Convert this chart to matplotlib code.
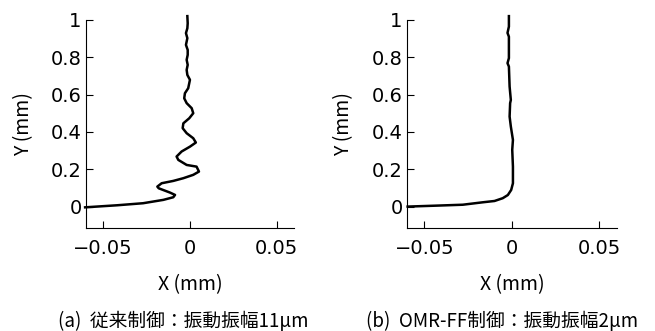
import matplotlib.pyplot as plt

plt.rcParams['font.family'] = ['Noto Sans CJK JP', 'DejaVu Sans']

# (a) conventional control: trajectory (x, y) in mm
conv_x = [-0.0604, -0.042, -0.027, -0.0153, -0.0096, -0.0086, -0.0115, -0.018, -0.0188,
          -0.0163, -0.0096, -0.0038, 0.0019, 0.0052, 0.0038, -0.0019, -0.0067, -0.0077,
          -0.0048, 0.0, 0.0034, 0.0019, -0.0019, -0.0042, -0.0038, -0.0004, 0.0019,
          0.001, -0.0019, -0.0033, -0.0029, -0.001, -0.0004, 0.0, -0.0015, -0.0019,
          -0.0013, -0.0019, -0.0013, -0.0013, -0.0023, -0.0015, -0.0023, -0.0015,
          -0.0013, -0.0015]
conv_y = [-0.004, 0.007, 0.018, 0.036, 0.05, 0.0625, 0.075, 0.098, 0.107,
          0.125, 0.1375, 0.152, 0.17, 0.1875, 0.214, 0.223, 0.25, 0.268,
          0.295, 0.321, 0.343, 0.366, 0.393, 0.42, 0.446, 0.473, 0.5,
          0.527, 0.554, 0.58, 0.607, 0.634, 0.661, 0.679, 0.705, 0.732,
          0.759, 0.786, 0.8125, 0.839, 0.866, 0.902, 0.929, 0.955,
          0.982, 1.02]

# (b) OMR-FF control
omr_x = [-0.0595, -0.0433, -0.028, -0.0166, -0.0099, -0.0052, -0.0023, -0.0004, 0.0006,
         0.0006, 0.0002, 0.0006, 0.0, -0.0006, -0.0013, -0.001, -0.0006, -0.0013,
         -0.0017, -0.0025, -0.0017, -0.0017, -0.0025, -0.0017, -0.0017]
omr_y = [0.0, 0.005, 0.01, 0.023, 0.03, 0.045, 0.062, 0.089, 0.125,
         0.214, 0.304, 0.357, 0.393, 0.429, 0.482, 0.554, 0.571, 0.643,
         0.75, 0.768, 0.795, 0.91, 0.93, 0.964, 1.02]

xticks = [-0.05, 0, 0.05]
xticklabels = ['\u22120.05', '0', '0.05']
yticks = [0, 0.2, 0.4, 0.6, 0.8, 1]
yticklabels = ['0', '0.2', '0.4', '0.6', '0.8', '1']
captions = ['(a)  従来制御：振動振幅11μm', '(b)  OMR-FF制御：振動振幅2μm']

fig = plt.figure(figsize=(6.55, 3.31), dpi=100)
boxes = [[0.131, 0.311, 0.318, 0.629], [0.621, 0.311, 0.321, 0.629]]
data = [(conv_x, conv_y), (omr_x, omr_y)]
cap_x = [0.28, 0.766]

for box, (xs, ys), cap, cx in zip(boxes, data, captions, cap_x):
    ax = fig.add_axes(box)
    ax.plot(xs, ys, color='black', lw=1.8, clip_on=False)
    ax.set_xlim(-0.06, 0.06)
    ax.set_ylim(-0.115, 1.0)
    ax.spines['top'].set_visible(False)
    ax.spines['right'].set_visible(False)
    ax.spines['left'].set_bounds(-0.115, 1.0)
    ax.set_xticks(xticks)
    ax.set_xticklabels(xticklabels, family=['DejaVu Sans'])
    ax.set_yticks(yticks)
    ax.set_yticklabels(yticklabels, family=['DejaVu Sans'])
    ax.tick_params(axis='x', direction='in', length=5, pad=8, labelsize=14)
    ax.tick_params(axis='y', direction='in', length=5, pad=3, labelsize=14)
    ax.set_xlabel('X (mm)', fontsize=14)
    ax.set_ylabel('Y (mm)', fontsize=14)
    ax.xaxis.set_label_coords(0.5, -0.22)
    ax.yaxis.set_label_coords(-0.25, 0.5)
    fig.text(cx, 0.03, cap, fontsize=13.5, ha='center', va='center')

fig.savefig('out.png', dpi=100)
